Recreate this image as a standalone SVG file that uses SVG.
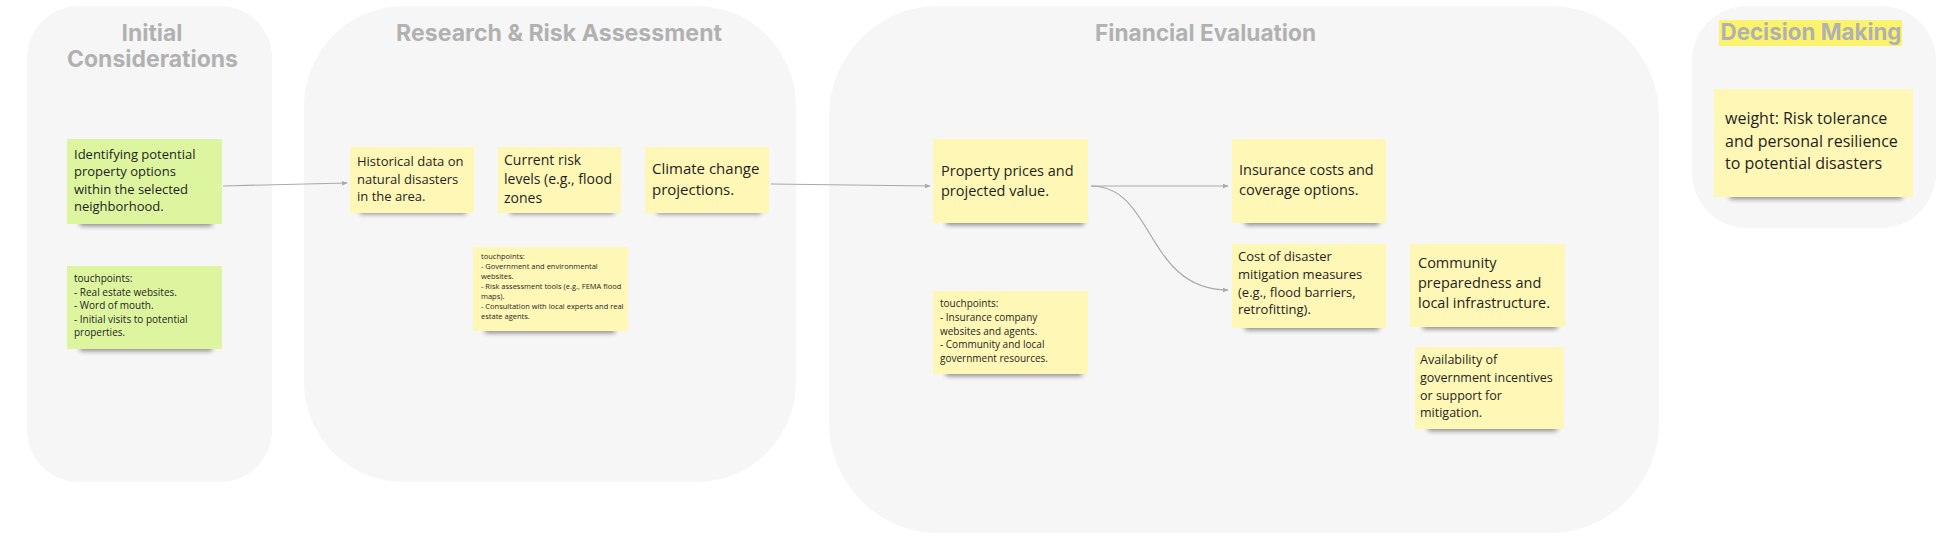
<svg xmlns="http://www.w3.org/2000/svg" width="1950" height="547" viewBox="0 0 1950 547">
<defs>
<style>
.frame{fill:#f6f6f6}
.title{font-family:Inter,"Liberation Sans",sans-serif;font-weight:700;fill:#b1b1b1;font-size:23px}
.note{font-family:"Open Sans","Noto Sans",sans-serif;fill:#1f1f1f}
.y{fill:#fff7b6}
.g{fill:#ddf59f}
.sh{fill:#000;opacity:0.45;filter:url(#blur)}
.conn{fill:none;stroke:#a9a9a9;stroke-width:1.2}
</style>
<filter id="blur" x="-20%" y="-200%" width="140%" height="500%"><feGaussianBlur stdDeviation="2.5"/></filter>
<marker id="arr" viewBox="0 0 10 10" refX="9" refY="5" markerWidth="6" markerHeight="6" orient="auto" markerUnits="userSpaceOnUse"><path d="M0,1 L10,5 L0,9 z" fill="#a9a9a9"/></marker>
</defs>
<rect width="1950" height="547" fill="#ffffff"/>

<g id="frame-initial">
<rect class="frame" x="27" y="6" width="245" height="476" rx="52"/>
<text class="title" x="152" y="41" text-anchor="middle" textLength="61" lengthAdjust="spacingAndGlyphs">Initial</text>
<text class="title" x="152.5" y="67" text-anchor="middle" textLength="171" lengthAdjust="spacingAndGlyphs">Considerations</text>
</g>
<g id="frame-research">
<rect class="frame" x="304" y="6" width="492" height="476" rx="100"/>
<text class="title" x="559" y="41" text-anchor="middle" textLength="326" lengthAdjust="spacingAndGlyphs">Research &amp; Risk Assessment</text>
</g>
<g id="frame-financial">
<rect class="frame" x="829" y="6" width="830" height="527" rx="110"/>
<text class="title" x="1205.5" y="41" text-anchor="middle" textLength="221" lengthAdjust="spacingAndGlyphs">Financial Evaluation</text>
</g>
<g id="frame-decision">
<rect class="frame" x="1692" y="6" width="244" height="222" rx="55"/>
<rect x="1719" y="20" width="183" height="26" fill="#fbf36c"/>
<text class="title" x="1811" y="40" text-anchor="middle" textLength="181" lengthAdjust="spacingAndGlyphs">Decision Making</text>
</g>

<g id="connectors">
<path class="conn" d="M223,186 L347,183" marker-end="url(#arr)"/>
<path class="conn" d="M771,184 L930,186" marker-end="url(#arr)"/>
<path class="conn" d="M1091,186 L1228,186" marker-end="url(#arr)"/>
<path class="conn" d="M1091,186 C1155,186 1145,290 1228,290" marker-end="url(#arr)"/>
</g>

<g id="n-identify">
<rect class="sh" x="80" y="219" width="132" height="7"/>
<rect class="g" x="67" y="139" width="155" height="85"/>
<text class="note" font-size="13"><tspan x="74" y="158.5">Identifying potential</tspan><tspan x="74" y="176">property options</tspan><tspan x="74" y="193.5">within the selected</tspan><tspan x="74" y="211">neighborhood.</tspan></text>
</g>
<g id="n-touch-initial">
<rect class="sh" x="80" y="344" width="132" height="7"/>
<rect class="g" x="67" y="266" width="155" height="83"/>
<text class="note" font-size="10"><tspan x="74" y="282">touchpoints:</tspan><tspan x="74" y="295.5">- Real estate websites.</tspan><tspan x="74" y="309">- Word of mouth.</tspan><tspan x="74" y="322.5">- Initial visits to potential</tspan><tspan x="74" y="336">properties.</tspan></text>
</g>
<g id="n-historical">
<rect class="sh" x="360" y="208" width="106" height="6"/>
<rect class="y" x="350" y="147" width="124" height="66"/>
<text class="note" font-size="13"><tspan x="357" y="166">Historical data on</tspan><tspan x="357" y="183.5">natural disasters</tspan><tspan x="357" y="201">in the area.</tspan></text>
</g>
<g id="n-current">
<rect class="sh" x="510" y="208" width="104" height="6"/>
<rect class="y" x="498" y="147" width="123" height="66"/>
<text class="note" font-size="14"><tspan x="504" y="165">Current risk</tspan><tspan x="504" y="184">levels (e.g., flood</tspan><tspan x="504" y="203">zones</tspan></text>
</g>
<g id="n-climate">
<rect class="sh" x="657" y="208" width="104" height="6"/>
<rect class="y" x="645" y="147" width="124" height="66"/>
<text class="note" font-size="15"><tspan x="652" y="174">Climate change</tspan><tspan x="652" y="195">projections.</tspan></text>
</g>
<g id="n-touch-research">
<rect class="sh" x="485" y="326" width="130" height="7"/>
<rect class="y" x="473" y="247" width="155" height="84"/>
<text class="note" font-size="7.5"><tspan x="481" y="259">touchpoints:</tspan><tspan x="481" y="269">- Government and environmental</tspan><tspan x="481" y="279">websites.</tspan><tspan x="481" y="289">- Risk assessment tools (e.g., FEMA flood</tspan><tspan x="481" y="299">maps).</tspan><tspan x="481" y="309">- Consultation with local experts and real</tspan><tspan x="481" y="319">estate agents.</tspan></text>
</g>
<g id="n-property">
<rect class="sh" x="946" y="218" width="138" height="7"/>
<rect class="y" x="933" y="139" width="155" height="84"/>
<text class="note" font-size="14.5"><tspan x="941" y="176">Property prices and</tspan><tspan x="941" y="196">projected value.</tspan></text>
</g>
<g id="n-insurance">
<rect class="sh" x="1245" y="218" width="134" height="7"/>
<rect class="y" x="1232" y="139" width="154" height="84"/>
<text class="note" font-size="14.5"><tspan x="1239" y="175">Insurance costs and</tspan><tspan x="1239" y="195">coverage options.</tspan></text>
</g>
<g id="n-cost">
<rect class="sh" x="1245" y="323" width="134" height="7"/>
<rect class="y" x="1232" y="244" width="154" height="84"/>
<text class="note" font-size="13"><tspan x="1238" y="261">Cost of disaster</tspan><tspan x="1238" y="279">mitigation measures</tspan><tspan x="1238" y="296.5">(e.g., flood barriers,</tspan><tspan x="1238" y="314">retrofitting).</tspan></text>
</g>
<g id="n-community">
<rect class="sh" x="1423" y="322" width="134" height="7"/>
<rect class="y" x="1410" y="244" width="155" height="83"/>
<text class="note" font-size="14.5"><tspan x="1418" y="268">Community</tspan><tspan x="1418" y="288">preparedness and</tspan><tspan x="1418" y="308">local infrastructure.</tspan></text>
</g>
<g id="n-availability">
<rect class="sh" x="1428" y="424" width="129" height="7"/>
<rect class="y" x="1415" y="347" width="149" height="82"/>
<text class="note" font-size="12.5"><tspan x="1420" y="364">Availability of</tspan><tspan x="1420" y="382">government incentives</tspan><tspan x="1420" y="399.5">or support for</tspan><tspan x="1420" y="417">mitigation.</tspan></text>
</g>
<g id="n-touch-financial">
<rect class="sh" x="946" y="369" width="136" height="7"/>
<rect class="y" x="933" y="291" width="155" height="83"/>
<text class="note" font-size="10"><tspan x="940" y="307">touchpoints:</tspan><tspan x="940" y="321">- Insurance company</tspan><tspan x="940" y="334.5">websites and agents.</tspan><tspan x="940" y="348">- Community and local</tspan><tspan x="940" y="362">government resources.</tspan></text>
</g>
<g id="n-weight">
<rect class="sh" x="1730" y="192" width="172" height="7"/>
<rect class="y" x="1714" y="89" width="199" height="108"/>
<text class="note" font-size="16"><tspan x="1725" y="124">weight: Risk tolerance</tspan><tspan x="1725" y="147">and personal resilience</tspan><tspan x="1725" y="169">to potential disasters</tspan></text>
</g>
</svg>
